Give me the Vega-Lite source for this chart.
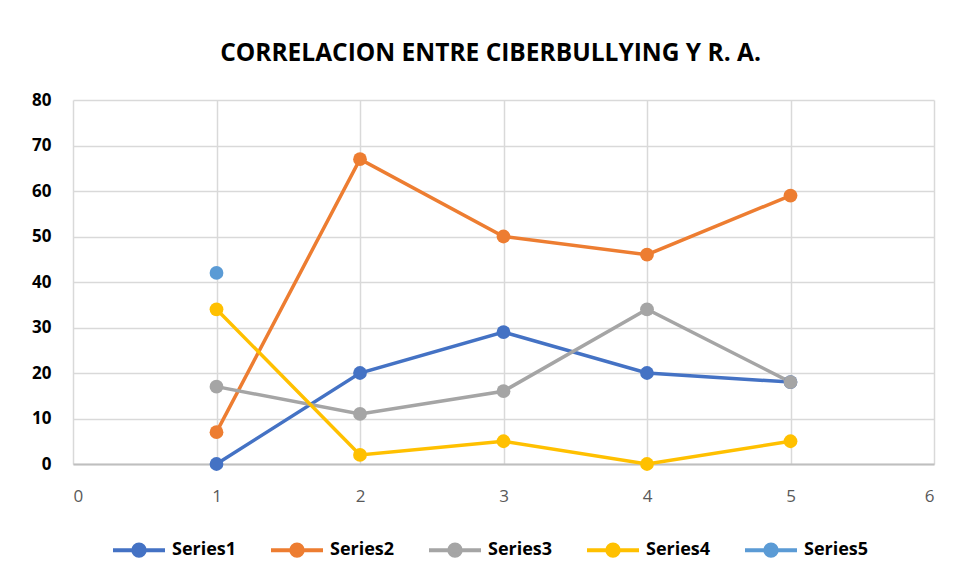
{
  "$schema": "https://vega.github.io/schema/vega-lite/v6.json",
  "width": 861,
  "height": 364,
  "autosize": "none",
  "padding": {"left": 73, "top": 100, "right": 29, "bottom": 117},
  "background": "white",
  "title": {
    "text": "CORRELACION ENTRE CIBERBULLYING Y R. A.",
    "font": "Open Sans",
    "fontSize": 24.5,
    "fontWeight": "bold",
    "color": "#000000",
    "frame": "group",
    "anchor": "middle",
    "dx": -13,
    "offset": 25
  },
  "config": {
    "view": {"stroke": null},
    "font": "Open Sans",
    "legend": {
      "orient": "none",
      "legendX": 38,
      "legendY": 422,
      "direction": "horizontal",
      "columns": 5,
      "columnPadding": 26,
      "labelFont": "Open Sans",
      "labelFontSize": 18,
      "labelFontWeight": "bold",
      "labelColor": "#000000",
      "labelOffset": 5,
      "symbolSize": 2704,
      "symbolStrokeWidth": 4,
      "symbolType": "M -1 0 L 1 0 M -0.22 0 A 0.22 0.22 0 1 1 0.22 0 A 0.22 0.22 0 1 1 -0.22 0 Z",
      "title": null
    }
  },
  "data": {
    "values": [
      {"series": "Series1", "x": 1, "y": 0},
      {"series": "Series1", "x": 2, "y": 20},
      {"series": "Series1", "x": 3, "y": 29},
      {"series": "Series1", "x": 4, "y": 20},
      {"series": "Series1", "x": 5, "y": 18},
      {"series": "Series2", "x": 1, "y": 7},
      {"series": "Series2", "x": 2, "y": 67},
      {"series": "Series2", "x": 3, "y": 50},
      {"series": "Series2", "x": 4, "y": 46},
      {"series": "Series2", "x": 5, "y": 59},
      {"series": "Series3", "x": 1, "y": 17},
      {"series": "Series3", "x": 2, "y": 11},
      {"series": "Series3", "x": 3, "y": 16},
      {"series": "Series3", "x": 4, "y": 34},
      {"series": "Series3", "x": 5, "y": 18},
      {"series": "Series4", "x": 1, "y": 34},
      {"series": "Series4", "x": 2, "y": 2},
      {"series": "Series4", "x": 3, "y": 5},
      {"series": "Series4", "x": 4, "y": 0},
      {"series": "Series4", "x": 5, "y": 5},
      {"series": "Series5", "x": 1, "y": 42}
    ]
  },
  "encoding": {
    "x": {
      "field": "x",
      "type": "quantitative",
      "scale": {"domain": [0, 6], "nice": false},
      "axis": {
        "title": null,
        "values": [0, 1, 2, 3, 4, 5, 6],
        "format": "d",
        "grid": true,
        "gridColor": "#D9D9D9",
        "gridWidth": 1.5,
        "domain": true,
        "domainColor": "#BFBFBF",
        "domainWidth": 2,
        "ticks": false,
        "labelFont": "Open Sans",
        "labelFontSize": 17,
        "labelColor": "#595959",
        "labelPadding": 24
      }
    },
    "y": {
      "field": "y",
      "type": "quantitative",
      "scale": {"domain": [0, 80], "nice": false},
      "axis": {
        "title": null,
        "values": [0, 10, 20, 30, 40, 50, 60, 70, 80],
        "grid": true,
        "gridColor": "#D9D9D9",
        "gridWidth": 1.5,
        "domain": false,
        "ticks": false,
        "labelFont": "Open Sans",
        "labelFontSize": 17,
        "labelFontWeight": "bold",
        "labelColor": "#000000",
        "labelPadding": 22
      }
    },
    "color": {
      "field": "series",
      "type": "nominal",
      "scale": {
        "domain": ["Series1", "Series2", "Series3", "Series4", "Series5"],
        "range": ["#4472C4", "#ED7D31", "#A5A5A5", "#FFC000", "#5B9BD5"]
      }
    }
  },
  "layer": [
    {"mark": {"type": "line", "strokeWidth": 3.5}},
    {"mark": {"type": "point", "filled": true, "size": 190, "opacity": 1}}
  ]
}
